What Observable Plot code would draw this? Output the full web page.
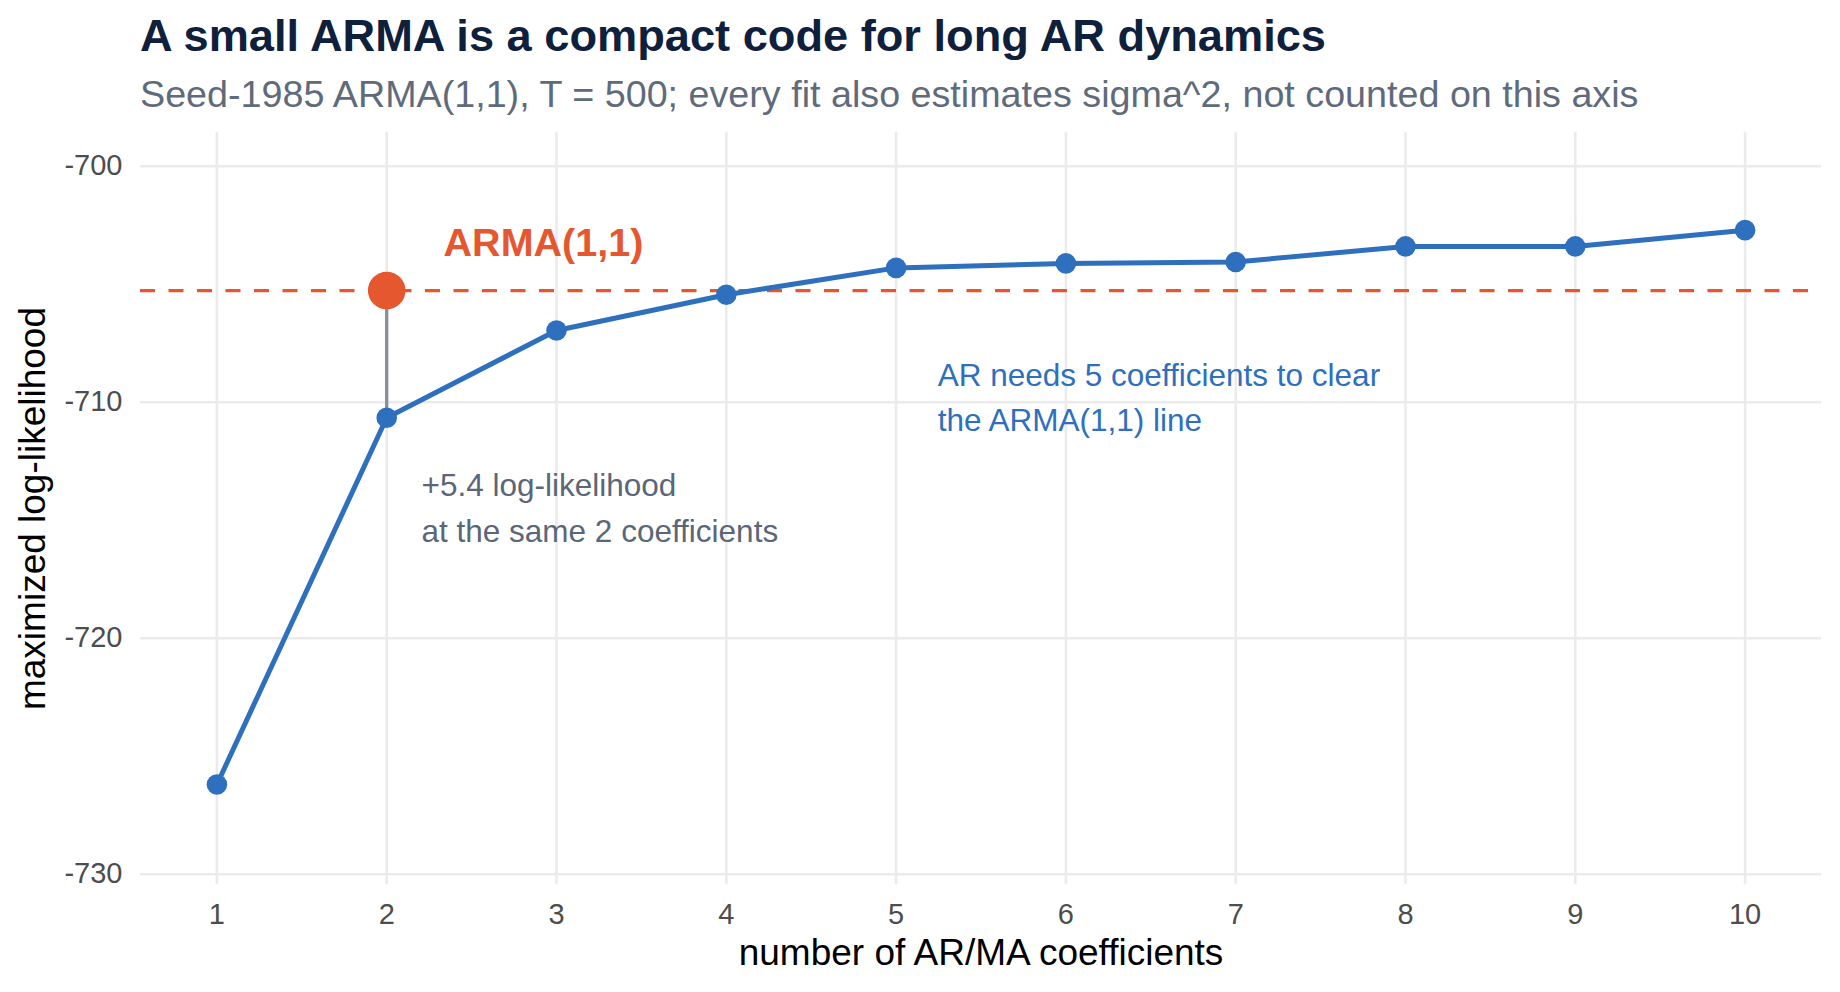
<!DOCTYPE html>
<html>
<head>
<meta charset="utf-8">
<script src="https://cdn.jsdelivr.net/npm/d3@7"></script>
<script src="https://cdn.jsdelivr.net/npm/@observablehq/plot@0.6"></script>
<style>
  html, body { margin: 0; padding: 0; background: #ffffff; }
  body { width: 1840px; height: 992px; overflow: hidden; font-family: "Liberation Sans", Arial, sans-serif; }
  #header { position: relative; height: 120px; width: 1840px; }
  #title { position: absolute; left: 140px; top: 13.2px; font-size: 45.2px; line-height: 45.2px; font-weight: bold; color: #0f203d; white-space: nowrap; }
  #subtitle { position: absolute; left: 140px; top: 76px; font-size: 37.7px; line-height: 37.7px; color: #5f6b7b; white-space: nowrap; }
  #chart svg { display: block; }
</style>
</head>
<body>
<div id="header">
  <div id="title">A small ARMA is a compact code for long AR dynamics</div>
  <div id="subtitle">Seed-1985 ARMA(1,1), T = 500; every fit also estimates sigma^2, not counted on this axis</div>
</div>
<div id="chart"></div>
<script>
// ---- data ----
const coefCounts = [1, 2, 3, 4, 5, 6, 7, 8, 9, 10];
const arLogLik = [-726.2, -710.66, -706.96, -705.45, -704.31, -704.12, -704.06, -703.40, -703.40, -702.71];
const armaCoefCount = 2;
const armaLogLik = -705.27;
const xTicks = [1, 2, 3, 4, 5, 6, 7, 8, 9, 10];
const yTicks = [-730, -720, -710, -700];
const xTitle = "number of AR/MA coefficients";
const yTitle = "maximized log-likelihood";
const armaLabel = "ARMA(1,1)";
const gainLabel = "+5.4 log-likelihood\nat the same 2 coefficients";
const arNoteLabel = "AR needs 5 coefficients to clear\nthe ARMA(1,1) line";

// annotation anchors (data coordinates)
const armaLabelPos = {x: 2.335, y: -703.27};
const gainLabelPos = {x: 2.205, y: -712.62};
const arNotePos = {x: 5.245, y: -707.92};

const arData = coefCounts.map((k, i) => ({k, ll: arLogLik[i]}));
const armaData = [{k: armaCoefCount, ll: armaLogLik}];
const ar2 = arData.find(d => d.k === armaCoefCount).ll;

const blue = "#2e6fbe";
const orange = "#e5582f";
const grid = "#ebebeb";

const chart = Plot.plot({
  width: 1840,
  height: 872,
  marginTop: 11.7,
  marginBottom: 107.7,
  marginLeft: 140,
  marginRight: 19,
  style: {fontFamily: "'Liberation Sans', Arial, sans-serif", background: "#ffffff", overflow: "visible"},
  x: {type: "linear", domain: [0.55, 10.45]},
  y: {type: "linear", domain: [-730.45, -698.56]},
  marks: [
    Plot.ruleY(yTicks, {stroke: grid, strokeWidth: 2.6}),
    Plot.ruleX(xTicks, {stroke: grid, strokeWidth: 2.6}),
    Plot.axisX(xTicks, {tickSize: 0, tickPadding: 19, fontSize: 29, fill: "#4d4d4d", label: null, tickFormat: d => String(d)}),
    Plot.axisY(yTicks, {tickSize: 0, tickPadding: 18, fontSize: 29, fill: "#4d4d4d", label: null, tickFormat: d => String(d)}),
    Plot.ruleY([armaLogLik], {stroke: orange, strokeWidth: 3.3, strokeDasharray: "15,13.5"}),
    Plot.ruleX([{k: armaCoefCount, y1: ar2, y2: armaLogLik}], {x: "k", y1: "y1", y2: "y2", stroke: "#8390a0", strokeWidth: 3.3}),
    Plot.line(arData, {x: "k", y: "ll", stroke: blue, strokeWidth: 5}),
    Plot.dot(arData, {x: "k", y: "ll", r: 10.3, fill: blue}),
    Plot.dot(armaData, {x: "k", y: "ll", r: 18.8, fill: orange}),
    Plot.text([armaLabel], {x: armaLabelPos.x, y: armaLabelPos.y, text: d => d, textAnchor: "start", lineAnchor: "middle", fontSize: 39.5, fontWeight: "bold", fill: orange}),
    Plot.text([gainLabel], {x: gainLabelPos.x, y: gainLabelPos.y, text: d => d, textAnchor: "start", lineAnchor: "top", fontSize: 31.5, lineHeight: 1.45, fill: "#5b6677"}),
    Plot.text([arNoteLabel], {x: arNotePos.x, y: arNotePos.y, text: d => d, textAnchor: "start", lineAnchor: "top", fontSize: 31.5, lineHeight: 1.45, fill: blue}),
    Plot.text([xTitle], {frameAnchor: "bottom", dy: 68.7, text: d => d, textAnchor: "middle", lineAnchor: "middle", fontSize: 37, fill: "#000000"}),
    Plot.text([yTitle], {frameAnchor: "left", dx: -107, rotate: -90, text: d => d, textAnchor: "middle", lineAnchor: "middle", fontSize: 37, fill: "#000000"})
  ]
});
document.getElementById("chart").appendChild(chart);
</script>
</body>
</html>
